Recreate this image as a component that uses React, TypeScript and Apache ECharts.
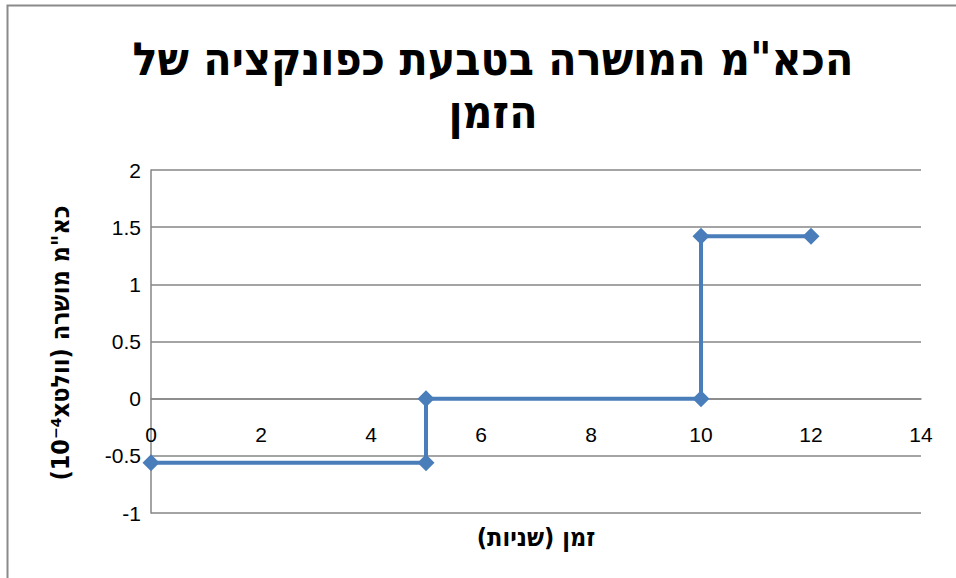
import React, { useEffect, useRef } from "react";
import * as echarts from "echarts";

const titleText = "הכא\"מ המושרה בטבעת כפונקציה של\nהזמן";
const xAxisName = "זמן (שניות)";
const yAxisName = "כא\"מ מושרה (וולט10⁻⁴x)";

const timeValues = [0, 5, 5, 10, 10, 12];
const emfValues = [-0.56, -0.56, 0, 0, 1.42, 1.42];

const xMin = 0;
const xMax = 14;
const xStep = 2;
const yMin = -1;
const yMax = 2;
const yStep = 0.5;

const RLE = "\u202B";
const PDF = "\u202C";
const rtl = (s: string) =>
  s
    .split("\n")
    .map((l) => RLE + l + PDF)
    .join("\n");

const gridTop = 170;
const gridBottom = 65;
const chartH = 578;

export default function App() {
  const ref = useRef<HTMLDivElement>(null);
  useEffect(() => {
    if (!ref.current) return;
    const chart = echarts.init(ref.current, null, { renderer: "svg" });
    const font = "'Liberation Sans', 'DejaVu Sans', Arial, sans-serif";
    const boldFont = "'DejaVu Sans Condensed', 'DejaVu Sans', sans-serif";
    const gridColor = "#868686";
    const plotH = chartH - gridTop - gridBottom;
    const zeroOffset = -((0 - yMin) / (yMax - yMin)) * plotH;
    chart.setOption({
      animation: false,
      backgroundColor: "#ffffff",
      textStyle: { fontFamily: font },
      grid: { left: 151, right: 35, top: gridTop, bottom: gridBottom, containLabel: false },
      title: {
        text: rtl(titleText),
        left: 488,
        textAlign: "center",
        top: 27,
        textStyle: {
          fontFamily: boldFont,
          fontSize: 46,
          fontWeight: "bold",
          color: "#000000",
          lineHeight: 53,
        },
      },
      xAxis: {
        type: "value",
        min: xMin,
        max: xMax,
        interval: xStep,
        offset: zeroOffset,
        axisLine: { show: true, onZero: false, lineStyle: { color: gridColor, width: 1.5 } },
        axisTick: { show: false },
        splitLine: { show: false },
        axisLabel: {
          color: "#000000",
          fontSize: 21,
          fontFamily: font,
          margin: 25,
        },
      },
      yAxis: {
        type: "value",
        min: yMin,
        max: yMax,
        interval: yStep,
        axisLine: { show: true, lineStyle: { color: gridColor, width: 1.5 } },
        axisTick: { show: false },
        splitLine: { show: true, lineStyle: { color: gridColor, width: 1.5 } },
        axisLabel: {
          color: "#000000",
          fontSize: 21,
          fontFamily: font,
          margin: 10,
        },
      },
      graphic: [
        {
          type: "rect",
          shape: { x: 7.5, y: 5.5, width: 1000, height: 1000 },
          style: { fill: "none", stroke: "#8a8a8a", lineWidth: 2 },
          silent: true,
        },
        {
          type: "text",
          x: 536,
          y: 537,
          style: {
            text: rtl(xAxisName),
            fontFamily: boldFont,
            fontSize: 25,
            fontWeight: "bold",
            fill: "#000000",
            align: "center",
            verticalAlign: "middle",
          },
        },
        {
          type: "text",
          x: 60,
          y: 343,
          rotation: Math.PI / 2,
          style: {
            text: rtl(yAxisName),
            fontFamily: boldFont,
            fontSize: 25,
            fontWeight: "bold",
            fill: "#000000",
            align: "center",
            verticalAlign: "middle",
          },
        },
      ],
      series: [
        {
          type: "line",
          data: timeValues.map((t, i) => [t, emfValues[i]]),
          symbol: "diamond",
          symbolSize: 17,
          showSymbol: true,
          lineStyle: { color: "#4a7ebb", width: 4 },
          itemStyle: { color: "#4a7ebb" },
          z: 5,
        },
      ],
    });
    return () => chart.dispose();
  }, []);
  return (
    <div
      ref={ref}
      style={{ position: "fixed", left: 0, top: 0, width: 956, height: 578 }}
    />
  );
}
